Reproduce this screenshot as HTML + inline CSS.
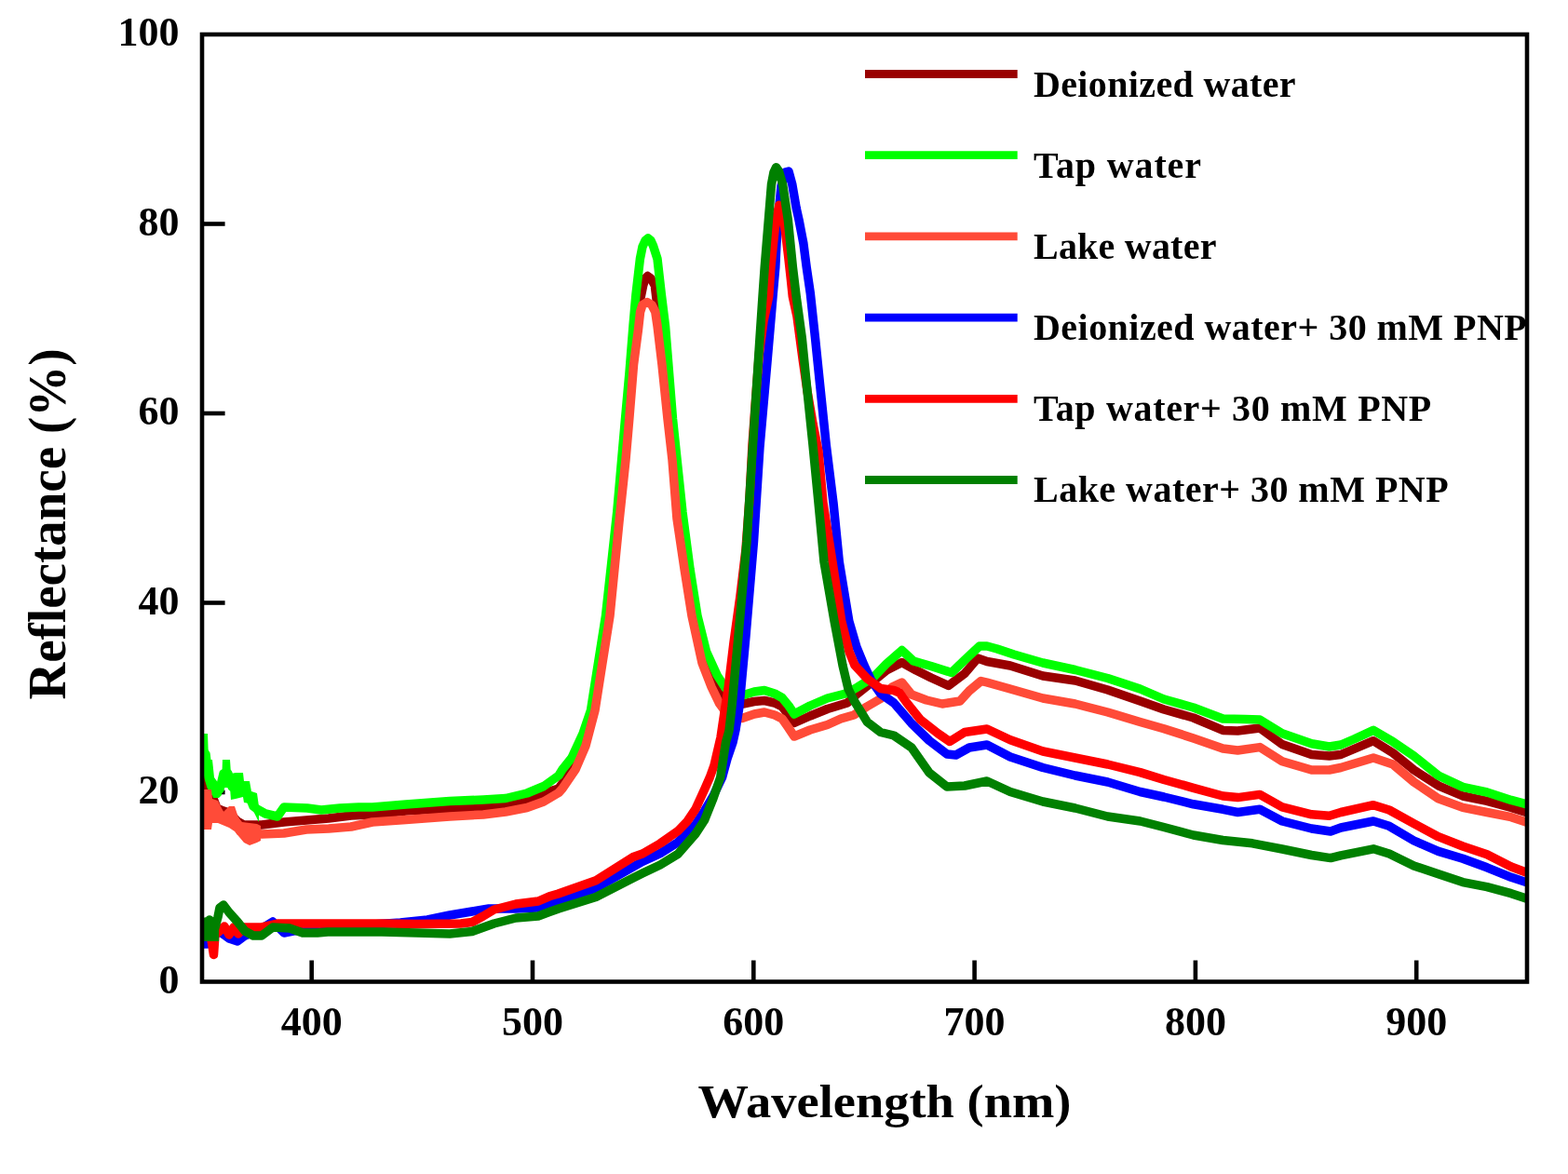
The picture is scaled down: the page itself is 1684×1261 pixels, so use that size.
<!DOCTYPE html>
<html><head><meta charset="utf-8"><title>Reflectance spectra</title>
<style>html,body{margin:0;padding:0;background:#fff;}body{width:1684px;height:1261px;overflow:hidden;}svg{display:block;}</style>
</head><body>
<svg width="1684" height="1261" viewBox="0 0 1684 1261">
<defs><clipPath id="clip"><rect x="217.0" y="37.0" width="1423.0" height="1017.5"/></clipPath></defs>
<rect width="1684" height="1261" fill="#fff"/>
<line x1="334.7" y1="1031.5" x2="334.7" y2="1054.5" stroke="#000" stroke-width="4.6"/>
<text x="334.7" y="1112" text-anchor="middle" font-size="44" font-family="'Liberation Serif', 'Times New Roman', serif" font-weight="bold">400</text>
<line x1="572.0" y1="1031.5" x2="572.0" y2="1054.5" stroke="#000" stroke-width="4.6"/>
<text x="572.0" y="1112" text-anchor="middle" font-size="44" font-family="'Liberation Serif', 'Times New Roman', serif" font-weight="bold">500</text>
<line x1="809.3" y1="1031.5" x2="809.3" y2="1054.5" stroke="#000" stroke-width="4.6"/>
<text x="809.3" y="1112" text-anchor="middle" font-size="44" font-family="'Liberation Serif', 'Times New Roman', serif" font-weight="bold">600</text>
<line x1="1046.6" y1="1031.5" x2="1046.6" y2="1054.5" stroke="#000" stroke-width="4.6"/>
<text x="1046.6" y="1112" text-anchor="middle" font-size="44" font-family="'Liberation Serif', 'Times New Roman', serif" font-weight="bold">700</text>
<line x1="1283.9" y1="1031.5" x2="1283.9" y2="1054.5" stroke="#000" stroke-width="4.6"/>
<text x="1283.9" y="1112" text-anchor="middle" font-size="44" font-family="'Liberation Serif', 'Times New Roman', serif" font-weight="bold">800</text>
<line x1="1521.2" y1="1031.5" x2="1521.2" y2="1054.5" stroke="#000" stroke-width="4.6"/>
<text x="1521.2" y="1112" text-anchor="middle" font-size="44" font-family="'Liberation Serif', 'Times New Roman', serif" font-weight="bold">900</text>
<line x1="217.0" y1="851.0" x2="241.6" y2="851.0" stroke="#000" stroke-width="4.6"/>
<line x1="217.0" y1="647.5" x2="241.6" y2="647.5" stroke="#000" stroke-width="4.6"/>
<line x1="217.0" y1="444.0" x2="241.6" y2="444.0" stroke="#000" stroke-width="4.6"/>
<line x1="217.0" y1="240.5" x2="241.6" y2="240.5" stroke="#000" stroke-width="4.6"/>
<text x="192.5" y="1066.5" text-anchor="end" font-size="44" font-family="'Liberation Serif', 'Times New Roman', serif" font-weight="bold">0</text>
<text x="192.5" y="863.0" text-anchor="end" font-size="44" font-family="'Liberation Serif', 'Times New Roman', serif" font-weight="bold">20</text>
<text x="192.5" y="659.5" text-anchor="end" font-size="44" font-family="'Liberation Serif', 'Times New Roman', serif" font-weight="bold">40</text>
<text x="192.5" y="456.0" text-anchor="end" font-size="44" font-family="'Liberation Serif', 'Times New Roman', serif" font-weight="bold">60</text>
<text x="192.5" y="252.5" text-anchor="end" font-size="44" font-family="'Liberation Serif', 'Times New Roman', serif" font-weight="bold">80</text>
<text x="192.5" y="49.0" text-anchor="end" font-size="44" font-family="'Liberation Serif', 'Times New Roman', serif" font-weight="bold">100</text>
<g clip-path="url(#clip)" fill="none" stroke-linejoin="round" stroke-linecap="round">
<path d="M217.0,840.0 L222.0,840.0 L226.0,850.0 L233.0,868.0 L240.0,871.0 L246.0,873.0 L255.0,882.0 L262.0,886.0 L281.0,886.0 L305.0,883.0 L329.0,881.0 L353.0,879.0 L377.0,876.0 L400.0,875.0 L436.0,871.0 L483.0,868.5 L519.0,867.0 L543.0,864.5 L566.0,859.0 L590.0,850.0 L600.0,847.0 L612.0,830.0 L624.0,800.0 L637.0,763.0 L645.0,712.0 L653.0,661.5 L664.0,560.0 L673.0,460.0 L679.0,392.0 L684.0,345.0 L686.0,330.0 L688.0,320.0 L690.7,306.6 L693.0,299.0 L695.5,296.5 L699.0,299.0 L703.3,306.6 L705.0,321.0 L707.6,335.0 L710.0,355.0 L714.0,392.0 L719.0,450.0 L724.0,494.0 L730.0,560.0 L738.0,611.0 L746.0,661.5 L756.0,705.0 L762.0,727.0 L772.0,745.0 L783.0,750.0 L790.0,755.0 L798.0,756.0 L810.0,753.5 L821.0,752.5 L832.0,755.0 L840.0,759.0 L847.0,768.0 L853.0,776.5 L870.0,769.0 L888.6,761.5 L910.0,755.0 L921.0,745.0 L938.6,731.0 L952.0,720.0 L968.6,711.5 L984.0,720.0 L1000.0,728.0 L1018.7,736.5 L1036.0,723.5 L1050.0,707.0 L1060.0,710.5 L1085.0,715.0 L1120.0,726.0 L1154.7,731.0 L1189.6,741.0 L1224.5,753.0 L1250.0,762.0 L1281.7,771.0 L1313.4,784.4 L1329.3,785.0 L1353.0,782.0 L1377.0,799.5 L1408.6,810.5 L1427.6,812.0 L1440.0,810.5 L1475.0,795.7 L1496.0,808.8 L1518.5,827.0 L1544.7,843.8 L1571.0,855.0 L1597.0,860.3 L1623.0,867.4 L1639.0,872.5" stroke="#990000" stroke-width="9.5"/>
<path d="M217.0,831.0 L225.0,831.0 L225.0,848.0 L217.0,848.0Z" fill="#990000" stroke="none"/>
<path d="M218.0,806.0 L221.0,810.0 L224.0,835.0 L227.0,845.0 L231.0,846.0 L236.0,848.0 L240.0,831.0 L245.0,831.0 L249.0,845.0 L253.0,843.0 L258.0,843.0 L263.0,850.0 L268.0,856.0 L272.0,866.0 L276.0,869.0 L285.0,874.0 L298.0,877.0 L305.0,867.0 L330.0,868.0 L345.0,870.0 L365.0,868.0 L385.0,867.0 L400.0,867.0 L436.0,864.0 L483.0,860.5 L519.0,859.0 L543.0,857.5 L566.0,852.0 L584.0,844.5 L600.0,833.0 L604.0,826.5 L614.0,814.0 L626.0,788.0 L634.5,763.0 L642.5,712.0 L650.5,661.5 L662.7,550.0 L671.5,450.0 L676.0,400.0 L680.0,350.0 L683.0,316.0 L687.4,278.0 L690.0,265.0 L693.0,258.5 L696.0,256.0 L699.0,258.5 L701.5,264.0 L706.0,278.0 L710.3,316.0 L714.5,350.0 L718.5,400.0 L722.5,450.0 L733.0,550.0 L741.0,611.0 L749.0,661.5 L758.5,699.6 L770.0,725.0 L779.0,739.0 L790.0,743.5 L797.0,747.0 L810.0,743.0 L821.0,741.5 L832.0,745.0 L840.0,749.5 L847.0,758.0 L853.0,767.0 L870.0,758.0 L888.6,750.0 L910.0,744.5 L921.0,738.0 L938.6,727.0 L952.0,713.0 L968.6,698.5 L981.0,710.0 L1000.0,715.5 L1022.0,722.5 L1036.0,709.0 L1052.0,694.0 L1060.0,694.0 L1071.0,697.0 L1089.0,703.0 L1120.0,712.0 L1154.7,719.5 L1189.6,728.5 L1224.5,740.0 L1250.0,751.0 L1281.7,760.0 L1313.4,772.0 L1337.0,772.4 L1353.0,773.0 L1377.0,787.7 L1408.6,798.7 L1427.6,802.0 L1440.0,800.0 L1454.0,794.0 L1475.0,784.4 L1496.0,796.7 L1518.5,812.0 L1544.7,833.0 L1571.0,845.4 L1597.0,851.0 L1623.0,859.4 L1639.0,863.7" stroke="#00ff00" stroke-width="9.5"/>
<path d="M217.0,788.0 L223.0,788.0 L224.0,816.0 L228.0,816.0 L230.0,835.0 L235.0,842.0 L238.0,842.0 L239.0,816.0 L247.0,816.0 L248.0,831.0 L253.0,830.0 L261.0,830.0 L262.0,839.0 L268.0,839.0 L270.0,850.0 L276.0,852.0 L278.0,866.0 L278.0,883.0 L276.0,879.0 L268.0,863.0 L262.0,862.0 L261.0,856.0 L253.0,858.0 L248.0,859.0 L247.0,846.0 L239.0,846.0 L238.0,854.0 L235.0,857.0 L229.0,857.0 L228.0,854.0 L224.0,854.0 L223.0,831.0 L217.0,831.0Z" fill="#00ff00" stroke="none"/>
<path d="M217.0,870.0 L222.0,870.0 L228.0,871.0 L234.0,872.0 L240.0,878.0 L246.0,878.0 L252.0,880.0 L258.0,893.0 L266.0,896.0 L274.0,895.0 L281.0,896.0 L305.0,895.0 L329.0,891.0 L353.0,890.0 L377.0,888.0 L400.0,883.0 L436.0,880.5 L483.0,877.0 L519.0,875.0 L543.0,872.0 L566.0,867.5 L584.0,861.0 L600.0,851.5 L604.0,847.0 L618.0,826.5 L629.0,801.0 L639.0,763.0 L647.0,712.0 L655.0,661.5 L665.0,560.0 L672.0,494.0 L675.8,450.0 L680.5,392.0 L685.5,354.0 L687.6,335.0 L690.0,327.5 L695.0,324.5 L700.0,327.5 L703.8,335.0 L706.0,350.0 L711.0,392.0 L717.0,450.0 L722.0,494.0 L727.0,557.0 L735.0,611.0 L743.0,661.5 L754.0,712.0 L764.0,737.7 L772.5,755.4 L778.0,763.0 L785.0,768.0 L797.0,771.5 L810.0,767.0 L821.0,765.0 L832.0,768.0 L840.0,772.0 L847.0,782.0 L853.0,791.0 L870.0,784.0 L888.6,778.5 L903.0,772.0 L917.0,768.0 L931.0,759.0 L945.7,750.5 L958.0,738.0 L968.6,733.0 L979.0,746.0 L995.0,752.0 L1012.0,756.0 L1031.0,753.0 L1041.0,742.0 L1053.6,731.5 L1060.0,733.0 L1085.0,740.0 L1120.0,750.0 L1154.7,756.0 L1189.6,765.0 L1224.5,775.5 L1250.0,782.7 L1281.7,793.0 L1313.4,804.0 L1329.3,806.0 L1353.0,802.6 L1377.0,817.7 L1408.6,827.0 L1427.6,827.0 L1440.0,824.5 L1475.0,814.0 L1496.0,821.0 L1518.5,840.0 L1544.7,857.7 L1571.0,867.4 L1597.0,872.5 L1623.0,877.7 L1639.0,883.0" stroke="#ff4b38" stroke-width="9.5"/>
<path d="M217.0,848.0 L227.0,848.0 L228.0,858.0 L234.0,860.0 L240.0,872.0 L246.0,866.0 L252.0,866.0 L256.0,878.0 L260.0,883.0 L276.0,885.0 L280.0,887.0 L280.0,903.0 L276.0,905.0 L268.0,908.0 L262.0,905.0 L252.0,893.0 L246.0,889.0 L234.0,884.0 L228.0,884.0 L227.0,891.0 L217.0,891.0Z" fill="#ff4b38" stroke="none"/>
<path d="M217.0,1014.0 L223.0,1014.0 L235.0,1000.0 L246.0,1008.0 L255.0,1011.0 L263.0,1005.0 L280.0,998.0 L293.0,990.0 L305.0,1002.0 L315.0,1000.0 L340.0,997.0 L370.0,996.0 L400.0,993.0 L430.0,991.0 L459.0,988.0 L483.0,983.0 L507.0,979.0 L525.0,976.0 L554.0,976.0 L578.0,975.0 L590.0,971.3 L640.0,954.0 L690.0,925.4 L709.0,916.6 L728.0,904.7 L747.0,885.6 L756.6,871.0 L766.0,855.0 L775.6,835.0 L781.0,815.0 L787.0,797.5 L790.0,784.0 L794.0,759.0 L801.0,683.0 L809.5,581.6 L816.0,480.0 L824.0,388.6 L830.0,318.6 L832.8,287.0 L834.0,261.5 L836.0,230.0 L839.0,200.0 L843.0,185.0 L847.0,184.0 L850.8,198.0 L855.2,223.5 L858.0,236.0 L862.9,261.5 L866.2,287.0 L870.3,315.0 L875.5,363.0 L880.7,414.0 L887.3,478.0 L895.0,540.0 L901.3,603.5 L911.8,667.0 L920.0,695.0 L928.0,714.6 L935.5,730.5 L945.7,745.0 L960.0,755.0 L979.0,777.0 L998.0,795.5 L1017.0,810.0 L1026.6,811.0 L1041.0,803.0 L1060.0,800.0 L1085.0,813.0 L1120.0,824.5 L1154.7,833.0 L1189.6,840.0 L1224.5,850.5 L1250.0,856.0 L1281.7,863.8 L1313.4,869.3 L1329.3,872.5 L1353.0,869.3 L1377.0,882.0 L1408.6,890.0 L1429.0,893.0 L1440.0,889.0 L1475.0,882.0 L1492.0,887.3 L1518.5,903.0 L1544.7,914.4 L1571.0,922.3 L1597.0,931.8 L1623.0,942.3 L1639.0,947.6" stroke="#0000ff" stroke-width="9.5"/>
<path d="M217.0,990.0 L221.0,997.0 L226.0,1003.0 L229.5,1025.5 L231.0,1004.0 L236.0,1000.0 L241.0,995.0 L246.0,1004.0 L251.0,996.0 L256.0,1003.0 L261.0,996.0 L267.0,996.0 L281.0,996.0 L299.0,992.0 L350.0,992.0 L410.0,992.0 L447.5,992.5 L495.0,992.0 L507.0,990.5 L519.0,984.0 L530.6,977.0 L554.0,971.0 L578.0,968.0 L590.0,962.8 L599.5,960.0 L640.0,945.7 L680.0,920.5 L690.0,917.0 L709.0,906.0 L728.0,892.7 L737.6,882.8 L747.0,869.0 L756.6,848.0 L762.3,835.0 L767.0,822.0 L774.0,792.0 L778.0,765.0 L782.0,740.0 L788.0,690.0 L795.0,640.0 L801.0,590.0 L805.0,535.0 L808.0,478.0 L811.5,430.0 L815.3,380.0 L820.0,345.0 L825.7,318.6 L827.9,287.0 L830.5,261.5 L833.3,236.0 L836.8,220.3 L840.5,232.0 L843.5,248.8 L846.5,274.0 L849.3,299.6 L851.3,318.6 L856.0,340.0 L862.0,385.0 L867.0,420.0 L873.0,455.0 L879.0,485.0 L884.0,540.0 L894.0,603.5 L903.7,667.0 L912.0,700.0 L918.0,714.6 L931.4,729.0 L945.7,739.5 L960.0,741.5 L966.0,744.0 L974.0,755.0 L988.5,773.0 L1007.6,788.0 L1020.0,796.5 L1036.0,786.5 L1060.0,783.0 L1085.0,794.7 L1120.0,807.0 L1154.7,814.0 L1189.6,821.0 L1224.5,829.6 L1250.0,837.5 L1281.7,846.3 L1313.4,855.0 L1329.3,856.6 L1353.0,853.4 L1377.0,866.8 L1408.6,874.8 L1427.6,876.3 L1440.0,872.5 L1475.0,864.7 L1492.0,870.0 L1518.5,884.7 L1544.7,898.7 L1571.0,909.0 L1597.0,917.8 L1623.0,931.0 L1639.0,937.0" stroke="#ff0000" stroke-width="9.5"/>
<path d="M217.0,992.0 L219.0,1004.0 L221.0,990.0 L223.0,1006.0 L225.0,988.0 L228.0,1004.0 L231.0,996.0 L234.0,985.0 L236.0,975.0 L240.0,972.0 L246.0,980.0 L255.0,990.0 L263.0,1000.0 L272.0,1005.0 L281.0,1005.0 L293.0,996.0 L311.0,997.0 L325.0,1002.0 L341.0,1002.0 L352.0,1001.0 L380.0,1001.0 L410.0,1001.0 L447.5,1002.0 L483.0,1003.0 L507.0,1000.5 L530.6,992.0 L554.0,986.0 L578.0,984.0 L590.0,979.5 L600.0,976.0 L640.0,963.5 L680.0,943.0 L690.0,938.0 L709.0,929.0 L728.0,917.4 L747.0,895.6 L756.6,881.0 L766.0,857.5 L773.7,835.0 L779.5,797.5 L783.0,785.0 L786.0,759.0 L793.0,683.0 L802.0,581.6 L808.5,478.0 L816.0,363.0 L819.0,318.6 L821.2,287.0 L825.4,236.0 L828.5,198.0 L831.0,185.0 L833.6,179.7 L836.5,184.0 L840.6,198.0 L846.3,236.0 L851.4,287.0 L855.2,318.6 L861.3,363.0 L867.0,420.0 L873.0,478.0 L879.0,540.0 L885.0,603.5 L896.0,667.0 L905.0,714.6 L911.0,740.0 L917.5,753.0 L931.4,775.5 L945.7,786.5 L960.0,790.0 L979.0,803.0 L998.0,830.0 L1017.0,845.0 L1036.0,844.0 L1060.0,839.0 L1085.0,850.5 L1120.0,861.0 L1154.7,868.0 L1189.6,877.0 L1224.5,882.0 L1250.0,888.5 L1281.7,897.0 L1313.4,902.5 L1345.0,905.8 L1377.0,912.0 L1408.6,918.5 L1429.0,921.6 L1440.0,918.8 L1475.0,911.8 L1492.0,917.0 L1518.5,930.0 L1544.7,938.8 L1571.0,947.6 L1597.0,952.7 L1623.0,959.7 L1639.0,965.0" stroke="#008000" stroke-width="9.5"/>
<path d="M217.0,986.0 L235.0,986.0 L235.0,1011.0 L217.0,1011.0Z" fill="#008000" stroke="none"/>
</g>
<rect x="217.0" y="37.0" width="1423.0" height="1017.5" fill="none" stroke="#000" stroke-width="4.6"/>
<text x="749.5" y="1200" font-size="51" textLength="401" lengthAdjust="spacingAndGlyphs" font-family="'Liberation Serif', 'Times New Roman', serif" font-weight="bold">Wavelength (nm)</text>
<text transform="translate(69.8,751.5) rotate(-90)" x="0" y="0" font-size="56" textLength="377" lengthAdjust="spacingAndGlyphs" font-family="'Liberation Serif', 'Times New Roman', serif" font-weight="bold">Reflectance (%)</text>
<line x1="929" y1="79.5" x2="1092.7" y2="79.5" stroke="#990000" stroke-width="8.8"/>
<text x="1110" y="103.6" font-size="40" textLength="281.6" lengthAdjust="spacing" font-family="'Liberation Serif', 'Times New Roman', serif" font-weight="bold">Deionized water</text>
<line x1="929" y1="166.7" x2="1092.7" y2="166.7" stroke="#00ff00" stroke-width="8.8"/>
<text x="1110" y="190.6" font-size="40" textLength="180" lengthAdjust="spacing" font-family="'Liberation Serif', 'Times New Roman', serif" font-weight="bold">Tap water</text>
<line x1="929" y1="253.9" x2="1092.7" y2="253.9" stroke="#ff4b38" stroke-width="8.8"/>
<text x="1110" y="277.6" font-size="40" textLength="196.4" lengthAdjust="spacing" font-family="'Liberation Serif', 'Times New Roman', serif" font-weight="bold">Lake water</text>
<line x1="929" y1="341.1" x2="1092.7" y2="341.1" stroke="#0000ff" stroke-width="8.8"/>
<text x="1110" y="364.6" font-size="40" textLength="529.7" lengthAdjust="spacing" font-family="'Liberation Serif', 'Times New Roman', serif" font-weight="bold">Deionized water+ 30 mM PNP</text>
<line x1="929" y1="428.3" x2="1092.7" y2="428.3" stroke="#ff0000" stroke-width="8.8"/>
<text x="1110" y="451.6" font-size="40" textLength="427.3" lengthAdjust="spacing" font-family="'Liberation Serif', 'Times New Roman', serif" font-weight="bold">Tap water+ 30 mM PNP</text>
<line x1="929" y1="515.5" x2="1092.7" y2="515.5" stroke="#008000" stroke-width="8.8"/>
<text x="1110" y="538.6" font-size="40" textLength="445.6" lengthAdjust="spacing" font-family="'Liberation Serif', 'Times New Roman', serif" font-weight="bold">Lake water+ 30 mM PNP</text>
</svg>
</body></html>
